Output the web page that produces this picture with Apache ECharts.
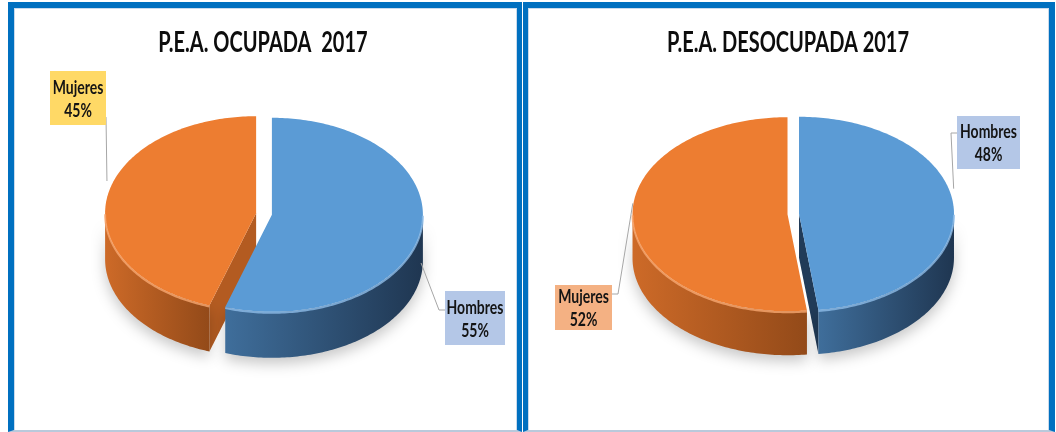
<!DOCTYPE html>
<html lang="es">
<head>
    <meta charset="UTF-8">
    <title>P.E.A. 2017</title>
    <script src="https://cdn.jsdelivr.net/npm/echarts@6/dist/echarts.min.js"></script>
    <style>
        html, body { margin: 0; padding: 0; background: #fff; }
        #wrap { position: relative; width: 1056px; height: 432px; overflow: hidden; }
        .panel { position: absolute; top: 2px; height: 430px; box-sizing: border-box;
                 border: 6px solid #0070C0; border-bottom: 2px solid #B9C9DB;
                 box-shadow: inset 1px 1px 0 #C9DAEC, inset -1px 0 0 #C9DAEC; }
        #main { position: absolute; left: 0; top: 0; width: 1056px; height: 432px; }
    </style>
</head>
<body>
<div id="wrap">
    <div class="panel" style="left:8px;width:514px;border-right-width:5px;"></div>
    <div class="panel" style="left:523px;width:532px;border-left-width:5px;"></div>
    <div id="main"></div>
</div>
<script>
    var categories = ['Hombres', 'Mujeres'];
    var titles = ['P.E.A. OCUPADA  2017', 'P.E.A. DESOCUPADA 2017'];
    var ocupada = [55, 45];
    var desocupada = [48, 52];

    // colores por categoria (Hombres, Mujeres)
    var topColors = ['#5B9BD5', '#ED7D31'];
    var rimColors = ['#8FBDE8', '#F7A870'];
    var sideLight = ['#3F6E9B', '#CD6A28'];
    var sideDark = ['#1F3651', '#934A19'];
    var cutColors = ['#213B58', '#B35B21'];

    // geometria de cada torta y posicion de sus etiquetas
    var pies = [
        {values: ocupada, cx: 264, cy: 214, rx: 151, ry: 97, depth: 46, explode: [8, 8], titleX: 263,
         labels: [
             {box: [445, 291, 60, 54], fill: '#B4C7E7', side: 'left', attachY: 19, anchorDy: 33},
             {box: [50, 71, 56, 54], fill: '#FFD966', side: 'right', attachY: 46, anchorDy: -17, elbow: 0}
         ]},
        {values: desocupada, cx: 793, cy: 214, rx: 155, ry: 97, depth: 44, explode: [6, 5.5], titleX: 788,
         labels: [
             {box: [957, 116, 63, 53], fill: '#B4C7E7', side: 'left', attachY: 17, anchorDy: -19},
             {box: [555, 285, 57, 45], fill: '#F4B183', side: 'right', attachY: 9, anchorDy: -17}
         ]}
    ];

    function pt(p, a, off, dz) {
        return [p.cx + off[0] + p.rx * Math.sin(a), p.cy + off[1] - p.ry * Math.cos(a) + (dz || 0)];
    }
    function arc(p, a0, a1, off, dz) {
        var pts = [];
        var n = Math.max(2, Math.ceil(Math.abs(a1 - a0) / (Math.PI / 180)));
        for (var i = 0; i <= n; i++) {
            pts.push(pt(p, a0 + (a1 - a0) * i / n, off, dz));
        }
        return pts;
    }
    function slice(p, i) {
        var total = 0, before = 0;
        for (var j = 0; j < p.values.length; j++) {
            total += p.values[j];
            if (j < i) before += p.values[j];
        }
        var a0 = before / total * Math.PI * 2;
        var a1 = (before + p.values[i]) / total * Math.PI * 2;
        var mid = (a0 + a1) / 2;
        var e = p.explode[i];
        return {a0: a0, a1: a1, mid: mid, pct: Math.round(p.values[i] / total * 100),
                off: [e * Math.sin(mid), -e * Math.cos(mid) * p.ry / p.rx]};
    }

    function renderCut(p, i) {
        var s = slice(p, i), c = [p.cx + s.off[0], p.cy + s.off[1]], kids = [];
        var edges = [];
        if (Math.sin(s.a0) < -0.01) edges.push(s.a0);
        if (Math.sin(s.a1) > 0.01) edges.push(s.a1);
        edges.forEach(function (a) {
            var r = pt(p, a, s.off, 0);
            kids.push({type: 'polygon',
                shape: {points: [c, r, [r[0], r[1] + p.depth], [c[0], c[1] + p.depth]]},
                style: {fill: cutColors[i]}});
        });
        return {type: 'group', children: kids};
    }

    function renderWall(p, i) {
        var s = slice(p, i);
        var st = Math.max(s.a0, Math.PI / 2), en = Math.min(s.a1, Math.PI * 1.5);
        if (st >= en) return {type: 'group', children: []};
        var up = arc(p, st, en, s.off, 0), down = arc(p, st, en, s.off, p.depth).reverse();
        var xs = up.map(function (q) { return q[0]; });
        var grad = new echarts.graphic.LinearGradient(Math.min.apply(null, xs), 0, Math.max.apply(null, xs), 0,
            [{offset: 0, color: sideLight[i]}, {offset: 1, color: sideDark[i]}], true);
        return {type: 'polygon', shape: {points: up.concat(down)},
            style: {fill: grad, shadowBlur: 14, shadowOffsetY: 6, shadowColor: 'rgba(0,0,0,0.22)'}};
    }

    function renderTop(p, i) {
        var s = slice(p, i), c = [p.cx + s.off[0], p.cy + s.off[1]];
        var kids = [{type: 'polygon', shape: {points: [c].concat(arc(p, s.a0, s.a1, s.off, 0))},
            style: {fill: topColors[i]}}];
        var st = Math.max(s.a0, Math.PI / 2), en = Math.min(s.a1, Math.PI * 1.5);
        if (st < en) {
            kids.push({type: 'polyline', shape: {points: arc(p, st, en, s.off, 1)},
                style: {stroke: rimColors[i], lineWidth: 2, fill: null, opacity: 0.8}});
        }
        // etiqueta con linea guia
        var L = p.labels[i], b = L.box;
        var rim = pt(p, s.mid, s.off, 0);
        var anchor = [rim[0], rim[1] + L.anchorDy];
        var ax = L.side === 'left' ? b[0] : b[0] + b[2];
        var ay = b[1] + L.attachY;
        var el = L.elbow === undefined ? 6 : L.elbow;
        var ex = L.side === 'left' ? ax - el : ax + el;
        kids.push({type: 'polyline', shape: {points: [[ax, ay], [ex, ay], anchor]},
            style: {stroke: '#A6A6A6', lineWidth: 1, fill: null}});
        kids.push({type: 'rect', shape: {x: b[0], y: b[1], width: b[2], height: b[3]},
            style: {fill: L.fill}});
        kids.push({type: 'text', x: b[0] + b[2] / 2, y: b[1] + b[3] / 2 + 1, scaleY: 1.4,
            style: {text: categories[i] + '\n' + s.pct + '%', x: 0, y: 0, align: 'center', verticalAlign: 'middle',
                fontFamily: 'Lato', fontWeight: 'bold', fontSize: 14, lineHeight: 16.5, fill: '#141414'}});
        return {type: 'group', children: kids};
    }

    var layers = [renderCut, renderWall, renderTop];
    var series = [];
    pies.forEach(function (p) {
        layers.forEach(function (fn, z) {
            series.push({
                type: 'custom',
                coordinateSystem: 'none',
                z: z + 1,
                silent: true,
                animation: false,
                data: p.values.map(function (v, i) { return {name: categories[i], value: v}; }),
                renderItem: function (params, api) { return fn(p, params.dataIndex); }
            });
        });
    });

    var myChart = echarts.init(document.getElementById('main'));
    myChart.setOption({
        animation: false,
        graphic: titles.map(function (t, k) {
            return {type: 'text', x: pies[k].titleX, y: 43, scaleY: 1.45, z: 10,
                style: {text: t, x: 0, y: 0, align: 'center', verticalAlign: 'middle',
                    fontFamily: 'Lato', fontWeight: 'bold', fontSize: 20, fill: '#0D0D0D'}};
        }),
        series: series
    });
</script>
</body>
</html>
